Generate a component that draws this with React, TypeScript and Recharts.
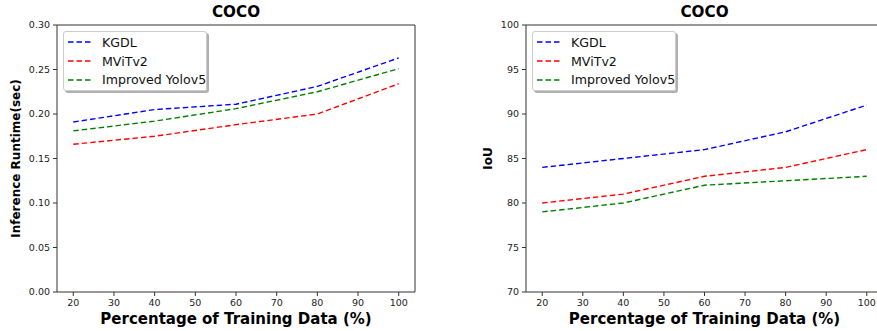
import React from 'react';
import { LineChart, Line, XAxis, YAxis, ReferenceArea, Legend } from 'recharts';

const percentages = [20, 40, 60, 80, 100];
const xTicks = [20, 30, 40, 50, 60, 70, 80, 90, 100];
const seriesNames = ['KGDL', 'MViTv2', 'Improved Yolov5'];
const seriesColors = ['#0000ff', '#ff0000', '#008000'];

const runtimeKGDL = [0.191, 0.205, 0.211, 0.231, 0.263];
const runtimeMViTv2 = [0.166, 0.175, 0.188, 0.2, 0.234];
const runtimeYolov5 = [0.181, 0.192, 0.206, 0.225, 0.251];
const runtimeTicks = [0, 0.05, 0.1, 0.15, 0.2, 0.25, 0.3];

const iouKGDL = [84, 85, 86, 88, 91];
const iouMViTv2 = [80, 81, 83, 84, 86];
const iouYolov5 = [79, 80, 82, 82.5, 83];
const iouTicks = [70, 75, 80, 85, 90, 95, 100];

const titleText = 'COCO';
const xLabelText = 'Percentage of Training Data (%)';
const runtimeLabel = 'Inference Runtime(sec)';
const iouLabel = 'IoU';

const FONT = '"DejaVu Sans", sans-serif';

const buildRows = (a: number[], b: number[], c: number[]) =>
  percentages.map((p, i) => ({ pct: p, [seriesNames[0]]: a[i], [seriesNames[1]]: b[i], [seriesNames[2]]: c[i] }));

const runtimeRows = buildRows(runtimeKGDL, runtimeMViTv2, runtimeYolov5);
const iouRows = buildRows(iouKGDL, iouMViTv2, iouYolov5);

const LegendBox = () => (
  <div
    style={{
      background: 'rgba(255,255,255,0.9)',
      border: '1px solid #cccccc',
      borderRadius: 3,
      boxShadow: '2px 2px 0 #b0b0b0',
      width: 144,
      height: 60,
      boxSizing: 'border-box',
      paddingTop: 1,
      fontFamily: FONT,
      fontSize: 12.6,
      color: '#111',
    }}
  >
    {seriesNames.map((n, i) => (
      <div key={n} style={{ display: 'flex', alignItems: 'center', height: 18.7 }}>
        <svg width={38} height={10} style={{ flex: 'none' }}>
          <line x1={4} x2={27} y1={5} y2={5} stroke={seriesColors[i]} strokeWidth={1.4} strokeDasharray="5.5 3" />
        </svg>
        <span style={{ whiteSpace: 'nowrap' }}>{n}</span>
      </div>
    ))}
  </div>
);

type PanelProps = {
  left: number;
  width: number;
  yAxisWidth: number;
  marginRight: number;
  rows: any[];
  yDomain: [number, number];
  yTicks: number[];
  yFmt: (v: number) => string;
  yLabel: string;
  yLabelX: number;
};

const Panel = ({ left, width, yAxisWidth, marginRight, rows, yDomain, yTicks, yFmt, yLabel, yLabelX }: PanelProps) => {
  const plotLeft = yAxisWidth;
  const plotRight = width - marginRight;
  const plotCx = (plotLeft + plotRight) / 2;
  const plotCy = (25 + 292) / 2;
  return (
    <div style={{ position: 'absolute', left, top: 0, width, height: 331 }}>
      <div
        style={{
          position: 'absolute',
          left: plotLeft,
          width: plotRight - plotLeft,
          top: 2,
          textAlign: 'center',
          fontFamily: FONT,
          fontWeight: 'bold',
          fontSize: 15.2,
          lineHeight: '20px',
          color: '#000',
        }}
      >
        {titleText}
      </div>
      <LineChart width={width} height={331} data={rows} margin={{ top: 25, right: marginRight, bottom: 0, left: 0 }}>
        <XAxis
          dataKey="pct"
          type="number"
          domain={[16, 104]}
          ticks={xTicks}
          height={39}
          axisLine={false}
          tickSize={4}
          tickMargin={3}
          tickLine={{ stroke: '#333' }}
          tick={{ fontFamily: FONT, fontSize: 9.5, fill: '#222' }}
          interval={0}
          label={(props: any) => (
            <text
              x={plotCx}
              y={323.5}
              textAnchor="middle"
              fontFamily={FONT}
              fontWeight="bold"
              fontSize={15}
              fill="#000"
            >
              {xLabelText}
            </text>
          )}
        />
        <YAxis
          type="number"
          domain={yDomain}
          ticks={yTicks}
          width={yAxisWidth}
          axisLine={false}
          tickSize={4}
          tickMargin={3}
          tickLine={{ stroke: '#333' }}
          tick={{ fontFamily: FONT, fontSize: 9.5, fill: '#222' }}
          tickFormatter={yFmt}
          interval={0}
          label={(props: any) => (
            <text
              x={yLabelX}
              y={plotCy}
              transform={`rotate(-90 ${yLabelX} ${plotCy})`}
              textAnchor="middle"
              dominantBaseline="central"
              fontFamily={FONT}
              fontWeight="bold"
              fontSize={12}
              fill="#000"
            >
              {yLabel}
            </text>
          )}
        />
        <ReferenceArea
          x1={16}
          x2={104}
          y1={yDomain[0]}
          y2={yDomain[1]}
          fill="none"
          stroke="#333"
          strokeWidth={1}
          fillOpacity={0}
          ifOverflow="visible"
        />
        {seriesNames.map((n, i) => (
          <Line
            key={n}
            dataKey={n}
            type="linear"
            stroke={seriesColors[i]}
            strokeWidth={1.4}
            strokeDasharray="5.5 3"
            dot={false}
            activeDot={false}
            isAnimationActive={false}
          />
        ))}
        <Legend
          layout="vertical"
          align="center"
          verticalAlign="middle"
          content={() => <LegendBox />}
          wrapperStyle={{ left: plotLeft + 6, top: 31, width: 'auto', height: 'auto' }}
        />
      </LineChart>
    </div>
  );
};

export default function App() {
  return (
    <div style={{ position: 'absolute', left: 0, top: 0, width: 877, height: 331, overflow: 'hidden', background: '#fff' }}>
      <Panel
        left={0}
        width={440}
        yAxisWidth={57}
        marginRight={25}
        rows={runtimeRows}
        yDomain={[0, 0.3]}
        yTicks={runtimeTicks}
        yFmt={(v: number) => v.toFixed(2)}
        yLabel={runtimeLabel}
        yLabelX={16}
      />
      <Panel
        left={440}
        width={460}
        yAxisWidth={86}
        marginRight={17}
        rows={iouRows}
        yDomain={[70, 100]}
        yTicks={iouTicks}
        yFmt={(v: number) => String(v)}
        yLabel={iouLabel}
        yLabelX={48}
      />
    </div>
  );
}
